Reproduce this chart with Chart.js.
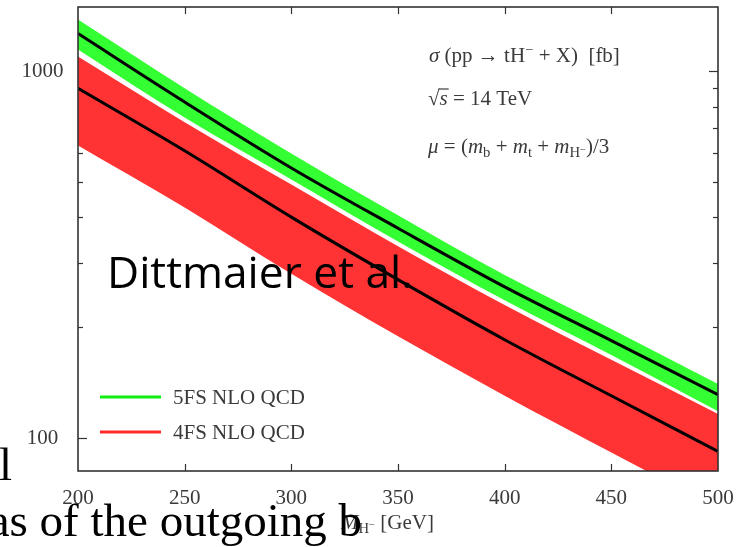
<!DOCTYPE html>
<html>
<head>
<meta charset="utf-8">
<script src="https://cdn.jsdelivr.net/npm/chart.js@4.4.1/dist/chart.umd.min.js"></script>
<style>
  html, body { margin: 0; padding: 0; background: #fff; }
</style>
</head>
<body>
<canvas id="chart" width="745" height="547"></canvas>
<script>
// charged Higgs mass [GeV]
const masses = [200, 250, 300, 350, 400, 450, 500];

// 5FS NLO QCD, cross section [fb]
const fs5Central = [1269, 825, 545, 373, 258, 184, 131];
const fs5Upper = [1386, 900, 597, 405, 278, 198, 140];
const fs5Lower = [1148, 748, 507, 343, 237, 168, 118];

// 4FS NLO QCD, cross section [fb]
const fs4Central = [899, 607, 400, 270, 185, 130, 91.6];
const fs4Upper = [1099, 727, 491, 333, 230, 163, 116];
const fs4Lower = [628, 425, 280, 189, 130, 91, 64];

const seriesNames = ['5FS NLO QCD', '4FS NLO QCD'];
const xTicks = [200, 250, 300, 350, 400, 450, 500];
const yTicks = [100, 200, 300, 400, 500, 600, 700, 800, 900, 1000];
const yLabelled = [100, 1000];

const SERIF = '"Liberation Serif", "DejaVu Serif", serif';
const TXT = '#3a3a3a';
const GREEN = '#33ff33';
const RED = '#ff3333';

const pts = (ys) => masses.map((m, i) => ({ x: m, y: ys[i] }));

const band = (ys, fill, color) => ({
  data: pts(ys),
  borderWidth: 0,
  pointRadius: 0,
  fill: fill,
  backgroundColor: color,
  cubicInterpolationMode: 'monotone',
});

const curve = (ys) => ({
  data: pts(ys),
  borderColor: '#000',
  borderWidth: 3,
  pointRadius: 0,
  fill: false,
  cubicInterpolationMode: 'monotone',
});

// draws text pieces one after the other (italic, sub- and superscripts)
function runs(ctx, x, y, parts, size) {
  ctx.fillStyle = TXT;
  ctx.textAlign = 'left';
  ctx.textBaseline = 'alphabetic';
  parts.forEach(p => {
    const s = size * (p.k || 1);
    ctx.font = (p.i ? 'italic ' : '') + s + 'px ' + SERIF;
    ctx.fillText(p.t, x, y + (p.dy || 0) * size);
    x += ctx.measureText(p.t).width;
  });
  return x;
}

const decor = {
  id: 'decor',
  beforeDatasetsDraw(chart) {
    const { ctx, chartArea: a, scales: { x, y } } = chart;
    ctx.save();
    ctx.strokeStyle = '#333';
    ctx.lineWidth = 1.2;
    const line = (x1, y1, x2, y2) => {
      ctx.beginPath(); ctx.moveTo(x1, y1); ctx.lineTo(x2, y2); ctx.stroke();
    };
    xTicks.slice(1, -1).forEach(v => {
      const px = Math.round(x.getPixelForValue(v)) + 0.5;
      line(px, a.bottom, px, a.bottom - 7);
      line(px, a.top, px, a.top + 7);
    });
    ctx.fillStyle = TXT;
    ctx.font = '21px ' + SERIF;
    ctx.textAlign = 'center';
    ctx.textBaseline = 'middle';
    yTicks.forEach(v => {
      const py = Math.round(y.getPixelForValue(v)) + 0.5;
      const len = yLabelled.includes(v) ? 9 : 5;
      line(a.left, py, a.left + len, py);
      line(a.right, py, a.right - len, py);
      if (yLabelled.includes(v)) ctx.fillText(String(v), 42.5, py);
    });
    ctx.restore();
  },
  afterDatasetsDraw(chart) {
    const { ctx, chartArea: a } = chart;
    ctx.save();
    ctx.strokeStyle = '#333';
    ctx.lineWidth = 1.6;
    ctx.strokeRect(a.left, a.top, a.right - a.left, a.bottom - a.top);

    // legend
    const legend = [[seriesNames[0], '#11ee11', 397], [seriesNames[1], '#ff2a2a', 432]];
    legend.forEach(([name, col, ly]) => {
      ctx.strokeStyle = col;
      ctx.lineWidth = 3;
      ctx.beginPath(); ctx.moveTo(100, ly); ctx.lineTo(161, ly); ctx.stroke();
      ctx.fillStyle = TXT;
      ctx.font = '21px ' + SERIF;
      ctx.textAlign = 'left';
      ctx.textBaseline = 'middle';
      ctx.fillText(name, 173, ly + 1);
    });

    // process description
    runs(ctx, 429, 62, [
      { t: 'σ', i: 1 }, { t: ' (pp → tH' }, { t: '−', k: 0.7, dy: -0.4 }, { t: ' + X)  [fb]' }
    ], 21);
    const sx = runs(ctx, 428, 105, [{ t: '√' }], 21);
    const ex = runs(ctx, sx, 105, [{ t: 's', i: 1 }], 21);
    ctx.strokeStyle = TXT;
    ctx.lineWidth = 1.2;
    ctx.beginPath(); ctx.moveTo(sx - 1, 105 - 16); ctx.lineTo(ex + 1, 105 - 16); ctx.stroke();
    runs(ctx, ex, 105, [{ t: ' = 14 TeV' }], 21);
    runs(ctx, 428, 153, [
      { t: 'μ', i: 1 }, { t: ' = (' }, { t: 'm', i: 1 }, { t: 'b', k: 0.7, dy: 0.2 },
      { t: ' + ' }, { t: 'm', i: 1 }, { t: 't', k: 0.7, dy: 0.2 },
      { t: ' + ' }, { t: 'm', i: 1 }, { t: 'H', k: 0.7, dy: 0.2 }, { t: '−', k: 0.5, dy: -0.02 },
      { t: ')/3' }
    ], 21);

    // x axis title
    runs(ctx, 341, 529, [
      { t: 'M', i: 1 }, { t: 'H', k: 0.7, dy: 0.2 }, { t: '−', k: 0.5, dy: -0.05 }, { t: ' [GeV]' }
    ], 21);

    // overlaid slide text
    ctx.fillStyle = '#000';
    ctx.textBaseline = 'alphabetic';
    ctx.textAlign = 'left';
    let fsz = 42;
    ctx.font = fsz + 'px "Open Sans", sans-serif';
    fsz = fsz * 306 / ctx.measureText('Dittmaier et al.').width;
    ctx.font = fsz + 'px "Open Sans", sans-serif';
    ctx.fillText('Dittmaier et al.', 107, 288);

    ctx.font = '47px ' + SERIF;
    ctx.textAlign = 'right';
    ctx.fillText('as of the outgoing b', 362, 536);
    ctx.textAlign = 'left';
    ctx.fillText('l', -1, 480);
    ctx.restore();
  }
};

// Chart.js paints the first dataset last, so the curves come first
new Chart(document.getElementById('chart').getContext('2d'), {
  type: 'line',
  data: {
    datasets: [
      curve(fs5Central),
      curve(fs4Central),
      band(fs5Upper, '+1', GREEN),
      band(fs5Lower, false, GREEN),
      band(fs4Upper, '+1', RED),
      band(fs4Lower, false, RED),
    ],
  },
  options: {
    responsive: false,
    animation: false,
    devicePixelRatio: 1,
    layout: { padding: { top: 7, right: 27, left: 0, bottom: 0 } },
    plugins: {
      legend: { display: false },
      tooltip: { enabled: false },
    },
    scales: {
      x: {
        type: 'linear',
        min: 200,
        max: 500,
        afterBuildTicks: (s) => { s.ticks = xTicks.map(v => ({ value: v })); },
        afterFit: (s) => { s.height = 76; },
        grid: { display: false },
        border: { display: false },
        ticks: {
          font: { family: SERIF, size: 21 },
          color: TXT,
          padding: 7,
          maxRotation: 0,
          autoSkip: false,
        },
      },
      y: {
        type: 'logarithmic',
        min: 81,
        max: 1500,
        afterBuildTicks: (s) => { s.ticks = yTicks.map(v => ({ value: v })); },
        afterFit: (s) => { s.width = 78; },
        grid: { display: false },
        border: { display: false },
        ticks: { display: false },
      },
    },
  },
  plugins: [decor],
});
</script>
</body>
</html>
